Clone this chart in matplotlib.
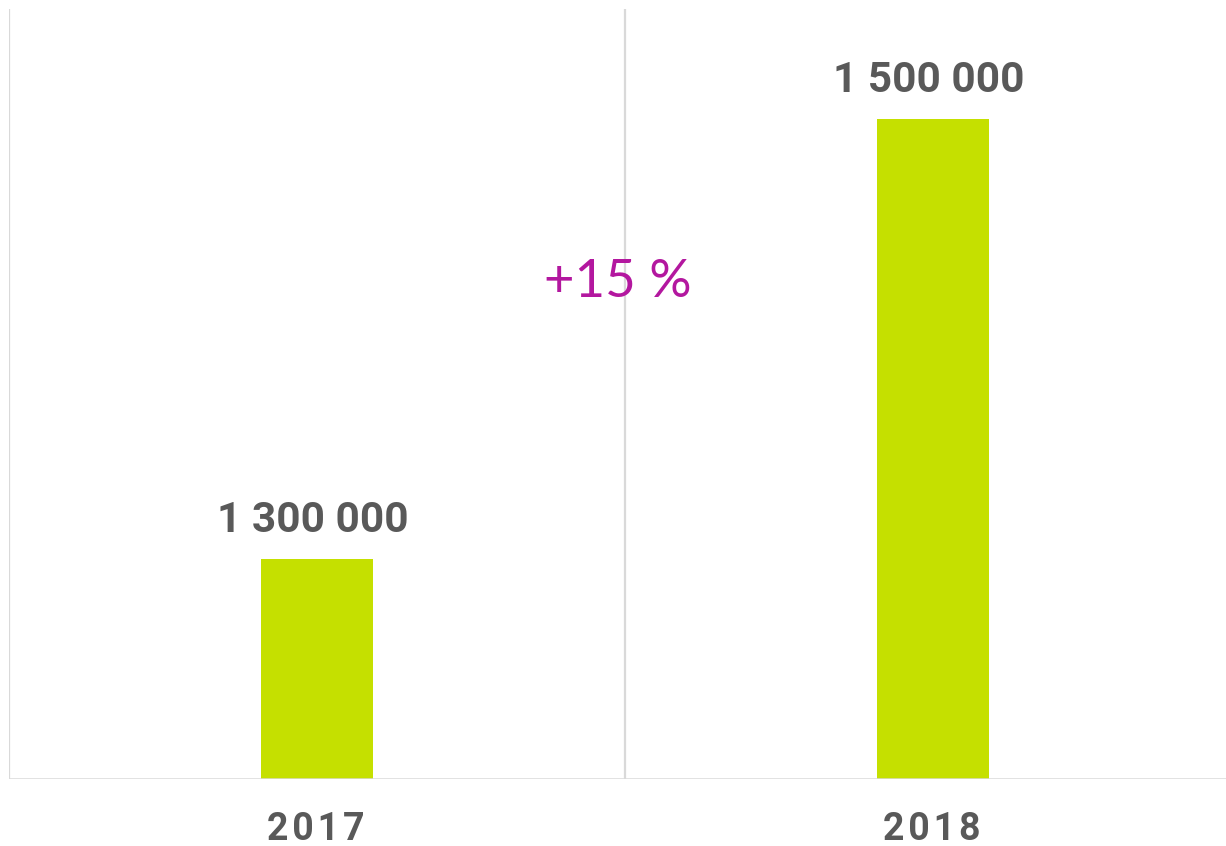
import matplotlib
matplotlib.use("Agg")
import matplotlib.pyplot as plt

# data
years = ["2017", "2018"]
values = [1300000, 1500000]
value_labels = ["1 300 000", "1 500 000"]
growth_label = "+15 %"

bar_color = "#C5E000"
text_gray = "#595959"
grid_gray = "#D9D9D9"
magenta = "#B3179F"

fig = plt.figure(figsize=(12.26, 8.46), dpi=100)
W, H = 1226, 846
# plot area: left 9px, baseline at 779px, top at 9px, right edge beyond the canvas
ax = fig.add_axes([9 / W, (H - 779) / H, 1232 / W, 770 / H])

x = list(range(len(years)))
bars = ax.bar(x, values, width=0.183, color=bar_color, zorder=3)

ax.set_xlim(-0.5, len(years) - 0.5)
ax.set_ylim(1200000, 1550000)

# category separators
for b in [-0.5 + i for i in range(len(years) + 1)]:
    ax.axvline(b, color=grid_gray, lw=1.6, zorder=1)
ax.axhline(1200000, color=grid_gray, lw=1.8, zorder=4)

for s in ax.spines.values():
    s.set_visible(False)
ax.set_yticks([])
ax.set_xticks([])

# year labels, slightly letter-spaced
for i, yr in enumerate(years):
    ax.annotate("\u200a".join(yr), (i, 0), xycoords=("data", "axes fraction"),
                xytext=(-1, -44), textcoords="offset points", ha="center", va="baseline",
                fontsize=27, fontweight="bold", family=["Roboto", "DejaVu Sans"], color=text_gray)

for rect, lab in zip(bars, value_labels):
    ax.annotate(lab, (rect.get_x() + rect.get_width() / 2, rect.get_y() + rect.get_height()),
                xytext=(-3, 19.5), textcoords="offset points", ha="center", va="baseline",
                fontsize=30.5, fontweight="bold", fontfamily="Roboto", color=text_gray)

ax.annotate(growth_label, (0.5, 1427000), xytext=(-5.5, -2), textcoords="offset points",
            ha="center", va="center", fontsize=38, fontfamily="Lato", color=magenta)

fig.savefig("out.png", dpi=100)
